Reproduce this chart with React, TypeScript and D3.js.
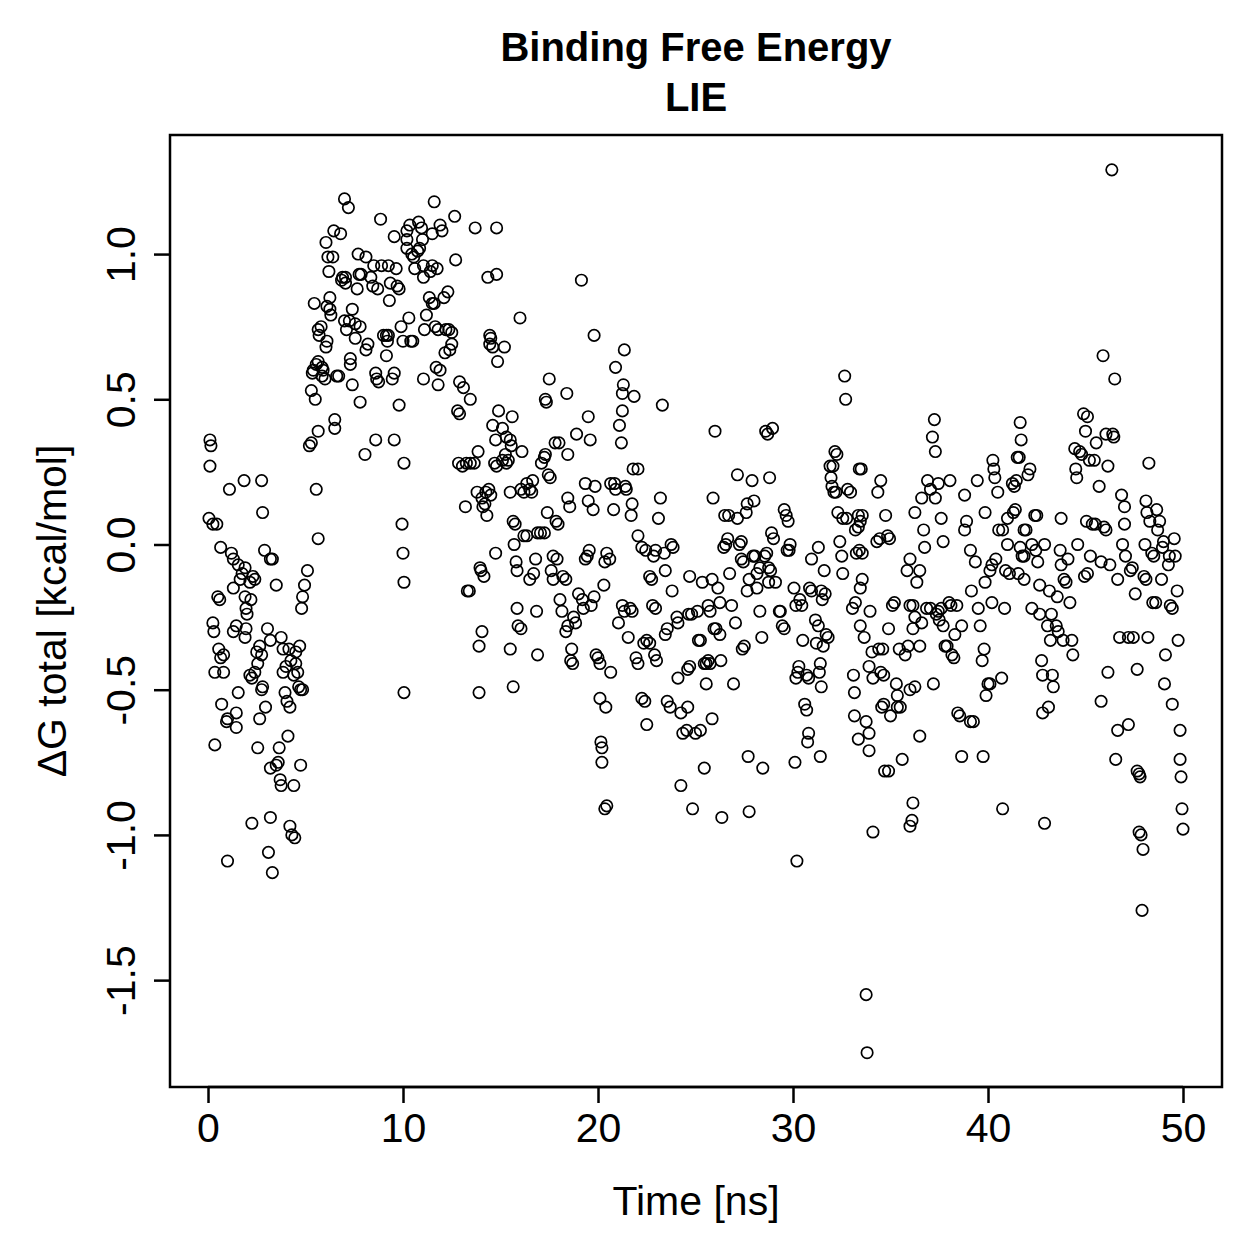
import React, { useRef, useEffect } from 'react';
import * as d3 from 'd3';

// [time (ns), dG total (kcal/mol)], grouped by stretch of the run
const equil = [
  [0.05,0.09],[0.1,0.36],[0.15,0.34],[0.1,0.27],[0.25,0.07],[0.45,0.07],[0.25,-0.27],[0.3,-0.3],[0.35,-0.44],[0.35,-0.69],
  [0.5,-0.18],[0.6,-0.19],[0.65,-0.01],[0.55,-0.36],[0.65,-0.39],[0.8,-0.38],[0.7,-0.55],[0.8,-0.44],[0.95,-0.61],[1.0,-0.6],
  [1.0,-1.09],[1.1,0.19],[1.2,-0.03],[1.3,-0.05],[1.3,-0.15],[1.3,-0.3],[1.45,-0.28],[1.45,-0.63],[1.55,-0.07],[1.65,-0.12],
  [1.75,-0.1],[1.9,-0.08],[1.55,-0.51],[1.45,-0.58],[1.85,0.22],[1.9,-0.18],[1.95,-0.22],[2.0,-0.24],[1.95,-0.29],[1.9,-0.32],
  [2.15,-0.13],[2.2,-0.19],[2.3,-0.11],[2.4,-0.12],[2.25,-0.46],[2.15,-0.45],[2.4,-0.44],[2.25,-0.96],[2.5,-0.37],[2.55,-0.41],
  [2.65,-0.35],[2.75,-0.38],[2.55,-0.7],[2.65,-0.6],[2.75,-0.5],[2.75,0.22],[2.8,0.11],[2.9,-0.02],[2.8,-0.49],[2.95,-0.56],
  [3.05,-0.29],[3.2,-0.33],[3.2,-0.05],[3.3,-0.05],[3.2,-0.77],[3.1,-1.06],[3.3,-1.13],[3.2,-0.94],[3.5,-0.14],[3.5,-0.76],
  [3.6,-0.75],[3.65,-0.7],[3.7,-0.81],[3.75,-0.83],[3.75,-0.32],[3.85,-0.44],[4.0,-0.42],[3.85,-0.36],[3.95,-0.51],[4.1,-0.66],
  [4.05,-0.54],[4.2,-0.97],[4.3,-1.0],[4.45,-1.01],[4.2,-0.56],[4.15,-0.36],[4.25,-0.4],[4.4,-0.45],[4.5,-0.41],[4.6,-0.44],
  [4.65,-0.49],[4.75,-0.5],[4.85,-0.5],[4.4,-0.83],[4.5,-0.37],[4.7,-0.35],[4.75,-0.76],[4.8,-0.22],[4.85,-0.18],[4.95,-0.14],
  [5.1,-0.09]
];

const peak = [
  [5.2,0.34],[5.3,0.35],[5.3,0.53],[5.35,0.59],[5.4,0.6],[5.45,0.83],[5.55,0.19],[5.65,0.02],[5.5,0.5],[5.55,0.62],
  [5.65,0.63],[5.65,0.39],[5.65,0.74],[5.8,0.75],[5.7,0.72],[5.85,0.58],[5.9,0.6],[5.85,0.61],[6.0,0.57],[6.05,1.04],
  [6.15,0.99],[6.25,0.85],[6.1,0.7],[6.05,0.68],[6.1,0.82],[6.2,0.94],[6.25,0.81],[6.3,0.79],[6.4,0.99],[6.45,1.08],
  [6.5,0.4],[6.5,0.43],[6.6,0.58],[6.7,0.58],[6.8,1.07],[6.85,0.91],[6.9,0.92],[7.05,0.92],[7.05,0.9],[7.0,1.19],
  [7.2,1.16],[7.0,0.77],[7.1,0.74],[7.25,0.77],[7.4,0.81],[7.3,0.64],[7.3,0.62],[7.4,0.55],[7.65,0.88],[7.7,1.0],
  [7.8,0.75],[7.55,0.76],[7.55,0.71],[7.75,0.93],[7.85,0.93],[7.8,0.49],[8.05,0.31],[8.1,0.99],[8.1,0.67],[8.2,0.69],
  [8.35,0.92],[8.45,0.89],[8.5,0.96],[8.6,0.59],[8.65,0.57],[8.75,0.56],[8.6,0.36],[8.7,0.88],[8.85,1.12],[8.9,0.96],
  [9.0,0.72],[9.15,0.72],[9.25,0.72],[9.15,0.65],[9.2,0.7],[9.3,0.84],[9.35,0.9],[9.25,0.96],[9.45,0.57],[9.55,0.59],
  [9.55,0.36],[9.55,1.06],[9.65,0.95],[9.8,0.48],[9.7,0.89],[9.8,0.88],[9.9,0.75],[10.0,0.7],[9.95,0.07],[10.0,-0.03],
  [10.05,-0.13],[10.05,-0.51],[10.05,0.28],[10.2,1.05],[10.2,1.08],[10.2,1.02],[10.3,0.78],[10.4,0.7],[10.5,0.7],[10.35,1.1],
  [10.45,1.0],[10.6,0.95],[10.55,0.99],[10.75,1.01],[10.85,1.02],[10.8,1.11],[10.95,1.09],[11.0,1.05],[11.05,0.96],[11.05,0.92],
  [11.4,0.94],[11.5,0.96],[11.1,0.74],[11.2,0.79],[11.35,0.85],[11.5,0.83],[11.6,0.83],[11.5,1.07],[11.6,1.18],[11.75,0.95],
  [11.65,0.75],[11.8,0.74],[11.05,0.57],[11.8,0.55],[11.9,0.6],[11.7,0.61],[11.9,1.1],[12.0,1.08],[12.1,0.85],[12.2,0.74],
  [12.35,0.74],[12.5,0.73],[12.15,0.66],[12.4,0.67],[12.5,0.69],[12.3,0.87],[12.65,1.13],[12.7,0.98],[12.8,0.46],[12.9,0.45],
  [12.85,0.28],[13.05,0.27],[12.9,0.56],[13.1,0.54]
];

const decay = [
  [13.2,0.13],[13.3,-0.16],[13.4,-0.16],[13.25,0.28],[13.45,0.28],[13.65,0.28],[13.45,0.5],[13.7,1.09],[13.8,0.18],[13.85,0.32],
  [13.95,-0.08],[14.0,-0.09],[14.15,-0.11],[13.9,-0.35],[14.05,-0.3],[13.9,-0.51],[14.05,0.16],[14.2,0.14],[14.3,0.1],[14.1,0.13],
  [14.25,0.18],[14.4,0.19],[14.5,0.17],[14.35,0.92],[14.45,0.72],[14.5,0.71],[14.45,0.69],[14.6,0.68],[14.6,0.41],[14.75,0.36],
  [14.7,0.28],[14.8,0.27],[14.75,-0.03],[14.8,1.09],[14.85,0.63],[14.8,0.93],[14.9,0.46],[15.1,0.4],[15.25,0.31],[15.1,0.29],
  [15.3,0.28],[15.4,0.29],[15.2,0.68],[15.3,0.37],[15.5,0.36],[15.55,0.34],[15.6,0.44],[15.5,0.18],[15.65,0.08],[15.7,0.0],
  [15.5,-0.36],[15.65,-0.49],[15.75,0.07],[15.8,-0.06],[15.85,-0.09],[15.85,-0.22],[15.9,-0.28],[16.05,-0.29],[16.0,0.78],[16.05,0.19],
  [16.2,0.18],[16.35,0.21],[16.1,0.32],[16.2,0.03],[16.35,0.03],[16.5,0.19],[16.6,0.18],[16.65,0.22],[16.5,-0.12],[16.7,-0.1],
  [16.8,-0.05],[16.85,-0.23],[16.9,-0.38],[16.9,0.04],[17.05,0.04],[17.25,0.04],[17.1,0.28],[17.25,0.3],[17.3,0.31],[17.3,0.5],
  [17.35,0.49],[17.5,0.57],[17.45,0.24],[17.55,0.23],[17.4,0.11],[17.6,-0.09],[17.7,-0.12],[17.7,-0.04],[17.9,-0.05],[17.8,0.35],
  [18.0,0.35],[17.85,0.08],[17.95,0.07],[18.05,-0.19],[18.15,-0.23],[18.2,-0.11],[18.35,-0.12],[18.35,-0.3],[18.45,-0.28],[18.4,0.52],
  [18.45,0.16],[18.55,0.13],[18.45,0.31],[18.6,-0.4],[18.7,-0.41],[18.65,-0.36],[18.75,-0.25],[18.85,-0.27],[18.9,0.38],[19.0,-0.17],
  [19.2,-0.19],[19.25,-0.22],[19.15,0.91],[19.35,0.21],[19.5,0.15],[19.35,-0.05],[19.45,-0.04],[19.55,-0.02],[19.5,0.44],[19.6,0.36],
  [19.65,-0.21],[19.8,-0.18],[19.8,0.72],[19.75,0.12],[19.85,0.2],[19.9,-0.38],[20.0,-0.39],[20.1,-0.41],[20.15,-0.68],[20.2,-0.7],
  [20.2,-0.75]
];

const plateauA = [
  [20.1,-0.53],[20.4,-0.56],[20.35,-0.91],[20.45,-0.9],[20.35,-0.06],[20.45,-0.03],[20.6,-0.05],[20.3,-0.14],[20.65,-0.44],[20.65,0.21],
  [20.85,0.21],[20.9,0.19],[20.9,0.61],[20.8,0.12],[21.05,-0.27],[21.1,0.41],[21.2,0.35],[21.25,0.46],[21.25,0.52],[21.3,0.55],
  [21.35,0.67],[21.25,-0.21],[21.35,-0.23],[21.4,0.2],[21.45,0.19],[21.55,-0.32],[21.65,-0.22],[21.75,-0.23],[21.7,0.1],[21.75,0.14],
  [21.8,0.26],[22.05,0.26],[21.85,0.51],[21.95,-0.39],[22.05,-0.41],[22.05,0.03],[22.25,-0.01],[22.45,-0.02],[22.25,-0.53],[22.4,-0.54],
  [22.35,-0.34],[22.5,-0.33],[22.65,-0.34],[22.5,-0.62],[22.65,-0.11],[22.75,-0.12],[22.85,-0.04],[22.95,-0.02],[22.8,-0.21],[22.95,-0.22],
  [22.9,-0.38],[23.0,-0.4],[23.1,0.09],[23.2,0.16],[23.3,0.48],[23.4,-0.03],[23.45,-0.09],[23.45,-0.31],[23.55,-0.29],[23.55,-0.54],
  [23.7,-0.56],[23.75,0.0],[23.85,-0.01],[23.8,-0.16],[24.05,-0.25],[24.1,-0.27],[24.1,-0.46],[24.25,-0.58],[24.25,-0.83],[24.35,-0.65],
  [24.55,-0.64],[24.6,-0.56],[24.6,-0.43],[24.7,-0.42],[24.7,-0.11],[24.65,-0.24],[24.8,-0.24],[24.85,-0.91],[25.0,-0.65],[25.15,-0.33],
  [25.25,-0.33],[25.1,-0.23],[25.25,-0.64],[25.35,-0.13],[25.45,-0.41],[25.55,-0.41],[25.65,-0.4],[25.75,-0.41],[25.55,-0.48],[25.45,-0.77],
  [25.65,-0.21],[25.75,-0.23],[25.85,-0.12],[25.9,0.16],[25.85,-0.6],[25.95,-0.29],[26.05,-0.29],[26.0,0.39],[26.15,-0.15],[26.25,-0.2],
  [26.3,-0.4],[26.25,-0.31],[26.35,-0.94],[26.45,-0.01],[26.55,0.0],[26.65,0.02],[26.5,0.1],[26.7,0.1],[26.75,-0.1],[26.85,-0.21],
  [27.05,-0.27],[26.95,-0.48]
];

const plateauB = [
  [27.15,0.24],[27.15,0.09],[27.25,0.0],[27.35,0.01],[27.35,-0.05],[27.45,-0.06],[27.4,-0.36],[27.5,-0.35],[27.6,0.11],[27.65,0.14],
  [27.65,-0.16],[27.75,-0.12],[27.7,-0.73],[27.75,-0.92],[27.9,0.22],[28.0,0.15],[27.95,-0.04],[28.05,-0.04],[28.15,-0.1],[28.3,-0.08],
  [28.15,-0.15],[28.3,-0.23],[28.4,-0.32],[28.55,-0.04],[28.65,-0.03],[28.75,-0.08],[28.45,-0.77],[28.6,0.39],[28.7,0.38],[28.75,-0.13],
  [28.85,-0.09],[28.8,0.23],[28.9,0.04],[29.0,0.02],[28.95,0.4],[29.1,-0.13],[29.3,-0.23],[29.35,-0.23],[29.45,-0.28],[29.55,-0.29],
  [29.55,0.12],[29.65,0.1],[29.7,-0.02],[29.8,-0.02],[29.75,0.08],[29.85,0.0],[30.05,-0.15],[30.15,-0.21],[30.1,-0.75],[30.15,-0.46],
  [30.25,-0.44],[30.3,-0.42],[30.2,-1.09],[30.35,-0.19],[30.45,-0.21],[30.5,-0.33],[30.6,-0.55],[30.7,-0.57],[30.7,-0.45],[30.8,-0.46],
  [30.75,-0.68],[30.8,-0.65],[30.85,-0.15],[30.95,-0.16],[30.95,-0.05],[31.15,-0.26],[31.3,-0.28],[31.2,-0.34],[31.3,-0.01],[31.35,-0.44],
  [31.4,-0.41],[31.45,-0.49],[31.45,-0.16],[31.5,-0.19],[31.55,-0.35],[31.4,-0.73],[31.6,-0.09],[31.65,-0.17],[31.7,-0.31],[31.8,-0.32],
  [31.9,0.27],[31.95,0.23],[32.0,0.2],[32.1,0.18],[32.2,0.18],[32.15,0.32],[32.25,0.31],[32.3,0.11],[32.05,0.27],[32.4,0.01],
  [32.5,-0.04],[32.55,-0.1],[32.55,0.09],[32.75,0.09],[32.65,0.58],[32.7,0.5],[32.8,0.19],[32.95,0.18],[33.05,-0.22],[33.2,-0.2],
  [33.1,-0.45],[33.15,-0.51],[33.15,-0.59],[33.25,-0.03],[33.4,-0.02],[33.55,-0.03],[33.2,0.05],[33.35,0.06],[33.45,0.08],[33.35,0.1],
  [33.55,0.1],[33.4,0.26],[33.5,0.26],[33.35,-0.67],[33.45,-0.15],[33.55,-0.12],[33.45,-0.28],[33.65,-0.32],[33.75,-1.55],[33.8,-1.75],
  [33.75,-0.61],[33.9,-0.65],[33.9,-0.42],[33.9,-0.71]
];

const plateauC = [
  [33.95,-0.23],[34.05,-0.37],[34.1,-0.46],[34.1,-0.99],[34.3,0.01],[34.45,0.02],[34.35,0.18],[34.5,0.22],[34.4,-0.36],[34.6,-0.36],
  [34.5,-0.44],[34.65,-0.45],[34.55,-0.56],[34.65,-0.55],[34.75,0.1],[34.85,0.03],[34.95,0.02],[34.9,-0.29],[35.0,-0.59],[34.9,-0.78],
  [34.7,-0.78],[35.1,-0.21],[35.2,-0.2],[35.3,-0.48],[35.35,-0.52],[35.35,-0.56],[35.5,-0.56],[35.45,-0.36],[35.6,-0.74],[35.75,-0.38],
  [35.9,-0.35],[35.85,-0.09],[36.0,-0.05],[36.15,-0.29],[36.25,-0.25],[36.0,-0.21],[36.15,-0.21],[36.35,-0.13],[36.5,-0.09],[36.1,-0.95],
  [36.15,-0.89],[36.0,-0.97],[36.0,-0.5],[36.25,0.11],[36.25,-0.49],[36.5,-0.66],[36.5,-0.35],[36.6,-0.27],[36.6,0.16],[36.7,0.05],
  [36.75,-0.01],[36.85,-0.22],[37.05,-0.22],[36.9,0.22],[37.05,0.19],[37.15,0.37],[37.25,0.43],[37.3,0.32],[37.2,-0.48],[37.3,0.16],
  [37.45,0.21],[37.35,-0.24],[37.45,-0.23],[37.6,-0.22],[37.5,-0.26],[37.7,-0.28],[37.7,0.01],[37.6,0.09],[37.8,-0.35],[37.9,-0.35],
  [38.0,-0.2],[38.1,-0.21],[38.05,0.22],[38.15,-0.38],[38.25,-0.39],[38.3,-0.31],[38.4,-0.21],[38.45,-0.58],[38.55,-0.59],[38.65,-0.28],
  [38.65,-0.73],[38.8,0.05],[38.9,0.08],[38.8,0.17],[39.1,-0.61],[39.25,-0.61],[39.1,-0.02],[39.15,-0.16],[39.35,-0.06],[39.45,0.22],
  [39.5,-0.22],[39.6,-0.28],[39.75,-0.73],[39.7,-0.4],[39.8,-0.36],[39.85,-0.13],[39.85,0.11],[39.9,-0.52],[40.0,-0.48],[40.1,-0.48],
  [40.1,-0.09],[40.2,-0.07],[40.2,-0.2],[40.25,0.29],[40.3,0.26],[40.35,0.23],[40.4,-0.05],[40.55,0.05],[40.5,0.18],[40.7,-0.46],
  [40.75,-0.91],[40.85,-0.22],[40.75,0.05],[40.9,-0.09]
];

const plateauD = [
  [41.0,0.09],[41.0,0.0],[41.1,-0.1],[41.25,0.21],[41.35,0.2],[41.3,0.11],[41.4,0.12],[41.45,0.22],[41.5,0.3],[41.6,0.3],
  [41.65,0.42],[41.7,0.36],[41.55,-0.1],[41.65,-0.01],[41.75,-0.04],[41.85,0.05],[41.95,0.05],[41.85,-0.12],[41.85,-0.04],[42.05,0.24],
  [42.15,0.26],[42.25,-0.22],[42.25,0.0],[42.4,0.1],[42.5,0.1],[42.45,-0.02],[42.55,-0.06],[42.65,-0.14],[42.65,-0.24],[42.75,-0.4],
  [42.8,-0.45],[42.8,-0.58],[42.9,-0.96],[42.9,0.0],[43.05,-0.28],[43.1,-0.56],[43.15,-0.16],[43.2,-0.33],[43.25,-0.24],[43.3,-0.45],
  [43.35,-0.49],[43.5,-0.28],[43.6,-0.3],[43.55,-0.18],[43.7,-0.02],[43.75,0.09],[43.75,-0.07],[43.85,-0.33],[43.9,-0.12],[44.0,-0.13],
  [44.1,-0.05],[44.2,-0.2],[44.3,-0.33],[44.35,-0.38],[44.45,0.33],[44.5,0.26],[44.55,0.23],[44.6,0.0],[44.7,0.32],[44.8,0.31],
  [44.9,0.45],[45.0,0.39],[45.1,0.44],[44.95,-0.11],[45.1,-0.1],[45.05,0.08],[45.2,0.29],[45.25,-0.04],[45.35,0.07],[45.5,0.07],
  [45.45,0.29],[45.55,0.35],[45.7,0.2],[45.8,-0.06],[45.8,-0.54],[45.9,0.65],[45.95,0.06],[46.05,0.05],[46.05,0.38],[46.15,0.27],
  [46.15,-0.44],[46.25,-0.07],[46.35,1.29],[46.4,0.38],[46.45,0.37],[46.5,0.57],[46.65,-0.12],[46.65,-0.64],[46.55,-0.74],[46.75,-0.32],
  [46.85,0.17],[47.0,0.13],[46.9,0.0],[47.0,0.07],[47.05,-0.04],[47.2,-0.62],[47.2,-0.32],[47.3,-0.09],[47.4,-0.08],[47.45,-0.32],
  [47.55,-0.17],[47.65,-0.43],[47.65,-0.78],[47.75,-0.79],[47.8,-0.8],[47.75,-0.99],[47.85,-1.0],[47.95,-1.05],[47.9,-1.26],[48.0,-0.11],
  [48.1,-0.12],[48.1,0.15],[48.05,0.0],[48.15,0.11],[48.2,-0.32],[48.25,0.28],[48.3,0.08],[48.4,-0.03],[48.5,-0.04],[48.45,-0.2],
  [48.6,-0.2],[48.65,0.12],[48.7,0.05],[48.8,0.08],[48.9,-0.12],[48.95,-0.01],[49.0,0.01],[49.05,-0.48],[49.1,-0.38],[49.25,-0.07],
  [49.3,-0.04],[49.35,-0.21],[49.45,-0.22],[49.45,-0.55],[49.55,0.02],[49.6,-0.04],[49.7,-0.16],[49.75,-0.33],[49.85,-0.64],[49.85,-0.74],
  [49.9,-0.8],[49.95,-0.91],[50.0,-0.98]
];

const xTicks = [0, 10, 20, 30, 40, 50];
const yTicks = [-1.5, -1.0, -0.5, 0.0, 0.5, 1.0];
const titleLines = ['Binding Free Energy', 'LIE'];
const xLabel = 'Time [ns]';
const yLabel = '\u0394G total [kcal/mol]';

const App = () => {
  const ref = useRef(null);

  useEffect(() => {
    const svg = d3.select(ref.current);
    svg.selectAll('*').remove();

    const width = 1259;
    const height = 1259;
    const box = { left: 170, right: 1222, top: 135, bottom: 1087 };
    const font = '"Liberation Sans", Arial, Helvetica, sans-serif';
    const labelSize = '41px';

    const data = [...equil, ...peak, ...decay, ...plateauA, ...plateauB, ...plateauC, ...plateauD];

    const x = d3.scaleLinear().domain([-1.949, 52.0]).range([box.left, box.right]);
    const y = d3.scaleLinear().domain([-1.868, 1.41]).range([box.bottom, box.top]);

    svg.attr('width', width).attr('height', height);
    svg.append('rect').attr('width', width).attr('height', height).attr('fill', '#fff');

    // points
    svg.append('g')
      .selectAll('circle')
      .data(data)
      .enter()
      .append('circle')
      .attr('cx', d => x(d[0]))
      .attr('cy', d => y(d[1]))
      .attr('r', 5.7)
      .attr('fill', 'none')
      .attr('stroke', '#000')
      .attr('stroke-width', 1.7);

    // axes
    const xAxis = svg.append('g')
      .attr('transform', `translate(0,${box.bottom})`)
      .call(d3.axisBottom(x).tickValues(xTicks).tickSize(16).tickPadding(10).tickFormat(d3.format('d')));

    const yAxis = svg.append('g')
      .attr('transform', `translate(${box.left},0)`)
      .call(d3.axisLeft(y).tickValues(yTicks).tickSize(16).tickPadding(0).tickFormat(d => d3.format('.1f')(d).replace('\u2212', '-')));

    [xAxis, yAxis].forEach(g => {
      g.select('.domain').remove();
      g.selectAll('line').attr('stroke', '#000').attr('stroke-width', 2.5);
      g.selectAll('text').attr('fill', '#000').style('font-family', font).style('font-size', labelSize);
    });

    xAxis.append('line')
      .attr('x1', x(xTicks[0])).attr('x2', x(xTicks[xTicks.length - 1]))
      .attr('stroke', '#000').attr('stroke-width', 2.5);

    yAxis.selectAll('text')
      .attr('x', null).attr('y', null).attr('dy', null)
      .attr('text-anchor', 'middle')
      .attr('transform', 'translate(-35,0) rotate(-90)')
      .attr('dominant-baseline', 'auto');

    // box
    svg.append('rect')
      .attr('x', box.left).attr('y', box.top)
      .attr('width', box.right - box.left).attr('height', box.bottom - box.top)
      .attr('fill', 'none').attr('stroke', '#000').attr('stroke-width', 2.5);

    // titles
    titleLines.forEach((t, i) => {
      svg.append('text')
        .attr('x', (box.left + box.right) / 2)
        .attr('y', 61 + i * 50)
        .attr('text-anchor', 'middle')
        .style('font-family', font).style('font-size', '40px').style('font-weight', 'bold')
        .text(t);
    });

    svg.append('text')
      .attr('x', (box.left + box.right) / 2)
      .attr('y', 1215)
      .attr('text-anchor', 'middle')
      .style('font-family', font).style('font-size', labelSize)
      .text(xLabel);

    svg.append('text')
      .attr('transform', `translate(66,${(box.top + box.bottom) / 2}) rotate(-90)`)
      .attr('text-anchor', 'middle')
      .style('font-family', font).style('font-size', labelSize)
      .text(yLabel);
  }, []);

  return <svg ref={ref} style={{ position: 'absolute', left: 0, top: 0 }}></svg>;
};

export default App;
